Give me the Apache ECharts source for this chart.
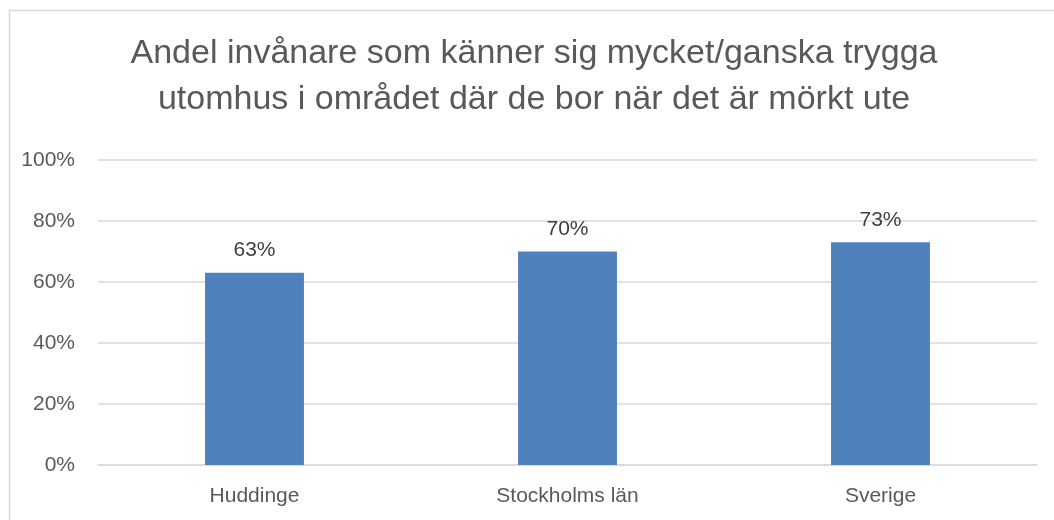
<!DOCTYPE html>
<html>
<head>
<meta charset="utf-8">
<script src="https://cdn.jsdelivr.net/npm/echarts@6/dist/echarts.min.js"></script>
<style>
  html, body { margin: 0; padding: 0; background: #fff; }
  #chart { width: 1054px; height: 520px; }
</style>
</head>
<body>
<div id="chart"></div>
<script>
// data
const categories = ["Huddinge", "Stockholms län", "Sverige"];
const values = [63, 70, 73];
const titleLines = [
  "Andel invånare som känner sig mycket/ganska trygga",
  "utomhus i området där de bor när det är mörkt ute"
];

const textColor = "#595959";
const font = "'Liberation Sans', Arial, sans-serif";

const myChart = echarts.init(document.getElementById("chart"));

const options = {
  animation: false,
  backgroundColor: "#fff",
  textStyle: { fontFamily: font },
  title: {
    text: titleLines.join("\n"),
    left: 529,
    top: 26,
    textAlign: "center",
    textStyle: {
      color: textColor,
      fontSize: 34,
      fontWeight: "normal",
      lineHeight: 46,
      fontFamily: font,
    },
  },
  // kant runt diagrammet
  graphic: [
    {
      type: "rect",
      shape: { x: 9.5, y: 10.5, width: 1100, height: 600 },
      style: { fill: "none", stroke: "#d9d9d9", lineWidth: 1.5 },
      silent: true,
    },
  ],
  grid: {
    left: 98,
    right: 17,
    top: 160,
    bottom: 55,
    containLabel: false,
  },
  xAxis: {
    type: "category",
    data: categories,
    axisLine: { show: true, lineStyle: { color: "#d9d9d9", width: 1.5 } },
    axisTick: { show: false },
    axisLabel: {
      color: textColor,
      fontSize: 21,
      margin: 21,
      fontFamily: font,
    },
  },
  yAxis: {
    type: "value",
    min: 0,
    max: 100,
    interval: 20,
    axisLine: { show: false },
    axisTick: { show: false },
    splitLine: { lineStyle: { color: "#d9d9d9", width: 1.5 } },
    axisLabel: {
      color: textColor,
      fontSize: 21,
      margin: 23,
      formatter: "{value}%",
      fontFamily: font,
    },
  },
  series: [
    {
      type: "bar",
      data: values,
      barWidth: "31.6%",
      itemStyle: { color: "#4F81BD" },
      label: {
        show: true,
        position: "top",
        distance: 12,
        color: "#404040",
        fontSize: 21,
        formatter: "{c}%",
        fontFamily: font,
      },
    },
  ],
};

myChart.setOption(options);
</script>
</body>
</html>
